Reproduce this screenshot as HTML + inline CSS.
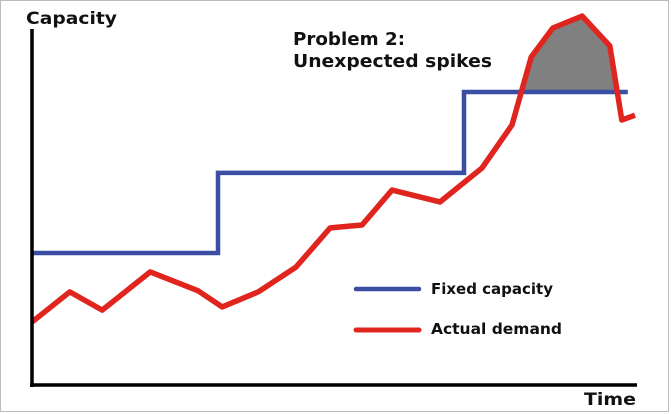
<!DOCTYPE html>
<html><head><meta charset="utf-8"><style>
html,body{margin:0;padding:0;background:#fff}
svg{display:block}
text{font-family:"DejaVu Sans","Liberation Sans",sans-serif;font-weight:bold;fill:#111}
</style></head><body>
<svg id="chart" width="671" height="414" viewBox="0 0 671 414" xmlns="http://www.w3.org/2000/svg">
<rect x="0.5" y="0.5" width="668" height="411" fill="#fff" stroke="#bbb" stroke-width="1"/>
<g id="shade"></g>
<polyline id="blue" fill="none" stroke="#3a4fa3" stroke-width="4.5"/>
<polyline id="red" fill="none" stroke="#e0251f" stroke-width="5.5" stroke-linejoin="round"/>
<line x1="32" y1="29" x2="32" y2="387" stroke="#000" stroke-width="3.5"/>
<line x1="30" y1="385" x2="637" y2="385" stroke="#000" stroke-width="3.5"/>
<text x="26" y="24" font-size="17" textLength="91" lengthAdjust="spacingAndGlyphs">Capacity</text>
<text x="584" y="405" font-size="17" textLength="52" lengthAdjust="spacingAndGlyphs">Time</text>
<text x="293" y="45" font-size="18" textLength="112" lengthAdjust="spacingAndGlyphs">Problem 2:</text>
<text x="293" y="67" font-size="18" textLength="199" lengthAdjust="spacingAndGlyphs">Unexpected spikes</text>
<line x1="356" y1="289" x2="419" y2="289" stroke="#3a4fa3" stroke-width="4.5" stroke-linecap="round"/>
<text x="431" y="294" font-size="15" textLength="122" lengthAdjust="spacingAndGlyphs">Fixed capacity</text>
<line x1="356" y1="330" x2="419" y2="330" stroke="#e0251f" stroke-width="5" stroke-linecap="round"/>
<text x="431" y="334" font-size="15" textLength="131" lengthAdjust="spacingAndGlyphs">Actual demand</text>
</svg>
<script>
const demandTime=[0,6.3,11.7,19.7,27.7,31.7,37.7,44,49.7,55,60,68,75,80,83.2,86.8,91.7,96.3,98.3,100.5];
const demandValue=[18,26.6,21.4,32.3,26.9,22.3,26.6,33.7,44.9,45.7,55.7,52.3,62,74.3,93.7,102,105.4,96.9,75.7,77.1];
const capacityStepTime=[0,31,72,99.3];
const capacityLevel=[37.7,60.6,83.7];
const X=t=>32+t*6;
const Y=v=>385-v*3.5;
let bp=[];
for(let i=0;i<capacityLevel.length;i++){
  bp.push(X(capacityStepTime[i])+","+Y(capacityLevel[i]));
  bp.push(X(capacityStepTime[i+1])+","+Y(capacityLevel[i]));
}
document.getElementById('blue').setAttribute('points',bp.join(' '));
document.getElementById('red').setAttribute('points',demandTime.map((t,i)=>X(t)+","+Y(demandValue[i])).join(' '));
const lvl=capacityLevel[capacityLevel.length-1];
const tStart=capacityStepTime[capacityStepTime.length-2];
let poly=[];
for(let i=0;i<demandTime.length-1;i++){
  const t0=demandTime[i],t1=demandTime[i+1],v0=demandValue[i],v1=demandValue[i+1];
  if(t0<tStart)continue;
  if(v0>lvl)poly.push([t0,v0]);
  if((v0-lvl)*(v1-lvl)<0){const f=(lvl-v0)/(v1-v0);poly.push([t0+f*(t1-t0),lvl]);}
}
if(poly.length){
  const p=document.createElementNS('http://www.w3.org/2000/svg','polygon');
  
  
  p.setAttribute('points',poly.map(q=>X(q[0])+","+Y(q[1])).join(' '));
  p.setAttribute('fill','#808080');
  document.getElementById('shade').appendChild(p);
}
</script>
</body></html>
